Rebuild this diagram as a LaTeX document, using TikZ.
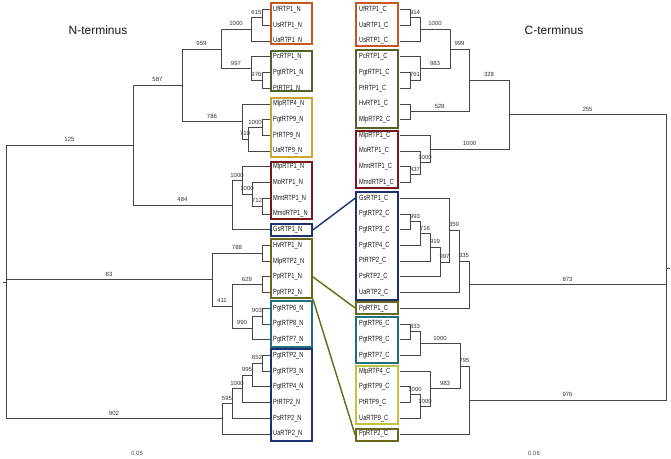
\documentclass[tikz,border=0pt]{standalone}
\usepackage{fontspec}
\setmainfont{Liberation Sans}
\newfontfamily\leaffont{Liberation Sans}[FakeStretch=0.76]
\usepackage{tikz}
\usetikzlibrary{positioning, fit, calc}
\definecolor{treegray}{RGB}{70, 70, 70}
\definecolor{cladeorange}{RGB}{200, 85, 35}
\definecolor{cladegreen}{RGB}{80, 100, 40}
\definecolor{cladegold}{RGB}{205, 165, 45}
\definecolor{cladered}{RGB}{120, 25, 30}
\definecolor{cladeblue}{RGB}{30, 50, 115}
\definecolor{cladeolive}{RGB}{105, 105, 25}
\definecolor{cladeteal}{RGB}{35, 110, 125}
\definecolor{cladelime}{RGB}{195, 195, 65}
\tikzset{
  leaf/.style={anchor=west, inner xsep=3pt, inner ysep=0pt,
               font=\leaffont\fontsize{7.5}{8}\selectfont, text=black!90},
  nextleaf/.style={below=15.72pt of #1.west, anchor=west},
  branch/.style={draw=treegray, line width=0.8pt},
  boot/.style={pos=0.25, above=2.5pt, inner sep=0.5pt,
               font=\fontsize{6}{7}\selectfont, text=black!80},
  cladebox/.style={draw=#1, line width=1.7pt, inner sep=0pt},
  link/.style={draw=#1, line width=1.4pt},
  title/.style={font=\fontsize{12}{14}\selectfont, text=black!90},
  scalelabel/.style={font=\fontsize{6}{7}\selectfont, text=black!70},
}

\begin{document}
\begin{tikzpicture}[x=1pt, y=-1pt]
  \useasboundingbox (0,0) rectangle (671,458);
  \node[title] (titleN) at (98,30) {N-terminus};
  \node[title] (titleC) at (554,30) {C-terminus};

  % N-terminus leaves
  \node[leaf] (ufN) at (270,9.6) {UfRTP1\_N};
  \node[leaf, nextleaf=ufN] (usN) {UsRTP1\_N};
  \node[leaf, nextleaf=usN] (uaN1) {UaRTP1\_N};
  \node[leaf, nextleaf=uaN1] (pcN) {PcRTP1\_N};
  \node[leaf, nextleaf=pcN] (pgtN1) {PgtRTP1\_N};
  \node[leaf, nextleaf=pgtN1] (ptN1) {PtRTP1\_N};
  \node[leaf, nextleaf=ptN1] (mlpN4) {MlpRTP4\_N};
  \node[leaf, nextleaf=mlpN4] (pgtN9) {PgtRTP9\_N};
  \node[leaf, nextleaf=pgtN9] (ptN9) {PtRTP9\_N};
  \node[leaf, nextleaf=ptN9] (uaN9) {UaRTP9\_N};
  \node[leaf, nextleaf=uaN9] (mlpN1) {MlpRTP1\_N};
  \node[leaf, nextleaf=mlpN1] (moN) {MoRTP1\_N};
  \node[leaf, nextleaf=moN] (mmtN) {MmtRTP1\_N};
  \node[leaf, nextleaf=mmtN] (mmdN) {MmdRTP1\_N};
  \node[leaf, nextleaf=mmdN] (gsN) {GsRTP1\_N};
  \node[leaf, nextleaf=gsN] (hvN) {HvRTP1\_N};
  \node[leaf, nextleaf=hvN] (mlpN2) {MlpRTP2\_N};
  \node[leaf, nextleaf=mlpN2] (ppN1) {PpRTP1\_N};
  \node[leaf, nextleaf=ppN1] (ppN2) {PpRTP2\_N};
  \node[leaf, nextleaf=ppN2] (pgtN6) {PgtRTP6\_N};
  \node[leaf, nextleaf=pgtN6] (pgtN8) {PgtRTP8\_N};
  \node[leaf, nextleaf=pgtN8] (pgtN7) {PgtRTP7\_N};
  \node[leaf, nextleaf=pgtN7] (pgtN2) {PgtRTP2\_N};
  \node[leaf, nextleaf=pgtN2] (pgtN3) {PgtRTP3\_N};
  \node[leaf, nextleaf=pgtN3] (pgtN4) {PgtRTP4\_N};
  \node[leaf, nextleaf=pgtN4] (ptN2) {PtRTP2\_N};
  \node[leaf, nextleaf=ptN2] (psN) {PsRTP2\_N};
  \node[leaf, nextleaf=psN] (uaN2) {UaRTP2\_N};

  % C-terminus leaves
  \node[leaf] (ufC) at (356,9.6) {UfRTP1\_C};
  \node[leaf, nextleaf=ufC] (uaC1) {UaRTP1\_C};
  \node[leaf, nextleaf=uaC1] (usC) {UsRTP1\_C};
  \node[leaf, nextleaf=usC] (pcC) {PcRTP1\_C};
  \node[leaf, nextleaf=pcC] (pgtC1) {PgtRTP1\_C};
  \node[leaf, nextleaf=pgtC1] (ptC1) {PtRTP1\_C};
  \node[leaf, nextleaf=ptC1] (hvC) {HvRTP1\_C};
  \node[leaf, nextleaf=hvC] (mlpC2) {MlpRTP2\_C};
  \node[leaf, nextleaf=mlpC2] (mlpC1) {MlpRTP1\_C};
  \node[leaf, nextleaf=mlpC1] (moC) {MoRTP1\_C};
  \node[leaf, nextleaf=moC] (mmtC) {MmtRTP1\_C};
  \node[leaf, nextleaf=mmtC] (mmdC) {MmdRTP1\_C};
  \node[leaf, nextleaf=mmdC] (gsC) {GsRTP1\_C};
  \node[leaf, nextleaf=gsC] (pgtC2) {PgtRTP2\_C};
  \node[leaf, nextleaf=pgtC2] (pgtC3) {PgtRTP3\_C};
  \node[leaf, nextleaf=pgtC3] (pgtC4) {PgtRTP4\_C};
  \node[leaf, nextleaf=pgtC4] (ptC2) {PtRTP2\_C};
  \node[leaf, nextleaf=ptC2] (psC) {PsRTP2\_C};
  \node[leaf, nextleaf=psC] (uaC2) {UaRTP2\_C};
  \node[leaf, nextleaf=uaC2] (ppC1) {PpRTP1\_C};
  \node[leaf, nextleaf=ppC1] (pgtC6) {PgtRTP6\_C};
  \node[leaf, nextleaf=pgtC6] (pgtC8) {PgtRTP8\_C};
  \node[leaf, nextleaf=pgtC8] (pgtC7) {PgtRTP7\_C};
  \node[leaf, nextleaf=pgtC7] (mlpC4) {MlpRTP4\_C};
  \node[leaf, nextleaf=mlpC4] (pgtC9) {PgtRTP9\_C};
  \node[leaf, nextleaf=pgtC9] (ptC9) {PtRTP9\_C};
  \node[leaf, nextleaf=ptC9] (uaC9) {UaRTP9\_C};
  \node[leaf, nextleaf=uaC9] (ppC2) {PpRTP2\_C};

  % inner nodes, N tree
  \coordinate (n615) at (262,17.46);
  \coordinate (n1000a) at (251,29.25);
  \coordinate (n976) at (262,80.34);
  \coordinate (n997) at (251,68.55);
  \coordinate (n959) at (221,48.9);
  \coordinate (n1000b) at (262,127.5);
  \coordinate (n710) at (248,139.29);
  \coordinate (n786) at (242,121.6);
  \coordinate (n587) at (182,85.25);
  \coordinate (n712) at (262,206.1);
  \coordinate (n1000c) at (252,194.31);
  \coordinate (n1000d) at (242,180.56);
  \coordinate (n484) at (232,205.12);
  \coordinate (n125) at (133,145.19);
  \coordinate (n788) at (262,253.26);
  \coordinate (n629) at (262,284.7);
  \coordinate (n903) at (262,316.14);
  \coordinate (n990) at (252,327.93);
  \coordinate (n411) at (232,306.3);
  \coordinate (n83) at (212,279.8);
  \coordinate (n652) at (262,363.3);
  \coordinate (n995) at (252,375.09);
  \coordinate (n1000e) at (242,388.85);
  \coordinate (n595) at (232,403.58);
  \coordinate (n902) at (222,418.81);
  \coordinate (rootN) at (6,282);

  % inner nodes, C tree
  \coordinate (rl) at (400,0);
  \coordinate (c914) at (410,17.46);
  \coordinate (c1000a) at (420,29.25);
  \coordinate (c761) at (410,80.34);
  \coordinate (c983a) at (420,68.55);
  \coordinate (c999) at (450,48.9);
  \coordinate (c528) at (410,111.78);
  \coordinate (c328) at (469,80.34);
  \coordinate (c437) at (410,174.66);
  \coordinate (c1000b) at (420,162.87);
  \coordinate (c1000c) at (430,149.1);
  \coordinate (c255) at (509,114.72);
  \coordinate (c993) at (410,221.82);
  \coordinate (c716) at (420,233.61);
  \coordinate (c919) at (430,247.37);
  \coordinate (c997) at (440,262.1);
  \coordinate (c359) at (449,230.17);
  \coordinate (c335) at (459,261.37);
  \coordinate (c873) at (469,284.8);
  \coordinate (c833) at (410,331.86);
  \coordinate (c1000d) at (420,343.65);
  \coordinate (c1000e) at (410,394.74);
  \coordinate (c1000f) at (420,406.53);
  \coordinate (c983b) at (430,388.85);
  \coordinate (c795) at (460,366.25);
  \coordinate (c976) at (469,400.15);
  \coordinate (rootC) at (666,268);

  \draw[branch] (ufN.west) -| (n615) (usN.west) -| (n615)
    (n615) -| node[boot]{615} (n1000a) (uaN1.west) -| (n1000a)
    (n1000a) -| node[boot]{1000} (n959)
    (pgtN1.west) -| (n976) (ptN1.west) -| (n976)
    (n976) -| node[boot]{976} (n997) (pcN.west) -| (n997)
    (n997) -| node[boot]{997} (n959)
    (n959) -| node[boot]{959} (n587);
  \draw[branch] (pgtN9.west) -| (n1000b) (ptN9.west) -| (n1000b)
    (n1000b) -| node[boot]{1000} (n710) (uaN9.west) -| (n710)
    (n710) -| node[boot]{710} (n786) (mlpN4.west) -| (n786)
    (n786) -| node[boot]{786} (n587)
    (n587) -| node[boot]{587} (n125);
  \draw[branch] (mmtN.west) -| (n712) (mmdN.west) -| (n712)
    (n712) -| node[boot]{712} (n1000c) (moN.west) -| (n1000c)
    (n1000c) -| node[boot]{1000} (n1000d) (mlpN1.west) -| (n1000d)
    (n1000d) -| node[boot]{1000} (n484) (gsN.west) -| (n484)
    (n484) -| node[boot]{484} (n125)
    (n125) -| node[boot]{125} (rootN);
  \draw[branch] (hvN.west) -| (n788) (mlpN2.west) -| (n788)
    (n788) -| node[boot]{788} (n83)
    (ppN1.west) -| (n629) (ppN2.west) -| (n629)
    (n629) -| node[boot]{629} (n411)
    (pgtN6.west) -| (n903) (pgtN8.west) -| (n903)
    (n903) -| node[boot]{903} (n990) (pgtN7.west) -| (n990)
    (n990) -| node[boot]{990} (n411)
    (n411) -| node[boot]{411} (n83)
    (n83) -| node[boot]{83} (rootN);
  \draw[branch] (pgtN2.west) -| (n652) (pgtN3.west) -| (n652)
    (n652) -| node[boot]{652} (n995) (pgtN4.west) -| (n995)
    (n995) -| node[boot]{995} (n1000e) (ptN2.west) -| (n1000e)
    (n1000e) -| node[boot]{1000} (n595) (psN.west) -| (n595)
    (n595) -| node[boot]{595} (n902) (uaN2.west) -| (n902)
    (n902) -| node[boot]{902} (rootN);
  \draw[branch] (rootN) -- ++(-3,0);

  \draw[branch] (ufC -| rl) -| (c914) (uaC1 -| rl) -| (c914)
    (c914) -| node[boot]{914} (c1000a) (usC -| rl) -| (c1000a)
    (c1000a) -| node[boot]{1000} (c999)
    (pgtC1 -| rl) -| (c761) (ptC1 -| rl) -| (c761)
    (c761) -| node[boot]{761} (c983a) (pcC -| rl) -| (c983a)
    (c983a) -| node[boot]{983} (c999)
    (c999) -| node[boot]{999} (c328)
    (hvC -| rl) -| (c528) (mlpC2 -| rl) -| (c528)
    (c528) -| node[boot]{528} (c328)
    (c328) -| node[boot]{328} (c255);
  \draw[branch] (mmtC -| rl) -| (c437) (mmdC -| rl) -| (c437)
    (c437) -| node[boot]{437} (c1000b) (moC -| rl) -| (c1000b)
    (c1000b) -| node[boot]{1000} (c1000c) (mlpC1 -| rl) -| (c1000c)
    (c1000c) -| node[boot]{1000} (c255)
    (c255) -| node[boot]{255} (rootC);
  \draw[branch] (pgtC2 -| rl) -| (c993) (pgtC3 -| rl) -| (c993)
    (c993) -| node[boot]{993} (c716) (pgtC4 -| rl) -| (c716)
    (c716) -| node[boot]{716} (c919) (ptC2 -| rl) -| (c919)
    (c919) -| node[boot]{919} (c997) (psC -| rl) -| (c997)
    (c997) -| node[boot]{997} (c359) (gsC -| rl) -| (c359)
    (c359) -| node[boot]{359} (c335) (uaC2 -| rl) -| (c335)
    (c335) -| node[boot]{335} (c873) (ppC1 -| rl) -| (c873)
    (c873) -| node[boot]{873} (rootC);
  \draw[branch] (pgtC6 -| rl) -| (c833) (pgtC8 -| rl) -| (c833)
    (c833) -| node[boot]{833} (c1000d) (pgtC7 -| rl) -| (c1000d)
    (c1000d) -| node[boot]{1000} (c795)
    (pgtC9 -| rl) -| (c1000e) (ptC9 -| rl) -| (c1000e)
    (c1000e) -| node[boot]{1000} (c1000f) (uaC9 -| rl) -| (c1000f)
    (c1000f) -| node[boot]{1000} (c983b) (mlpC4 -| rl) -| (c983b)
    (c983b) -| node[boot]{983} (c795)
    (c795) -| node[boot]{795} (c976) (ppC2 -| rl) -| (c976)
    (c976) -| node[boot]{976} (rootC);
  \draw[branch] (rootC) -- ++(4,0);

  % clade boxes
  \node[cladebox=cladeorange, fit={(271,3) (312,44)}] (boxUN) {};
  \node[cladebox=cladegreen, fit={(271,51) (312,91)}] (boxPN) {};
  \node[cladebox=cladegold, fit={(271,98) (312,157)}] (box9N) {};
  \node[cladebox=cladered, fit={(271,162) (312,219)}] (boxMN) {};
  \node[cladebox=cladeblue, fit={(271,224) (312,236)}] (boxGN) {};
  \node[cladebox=cladeolive, fit={(271,239) (312,298)}] (boxHN) {};
  \node[cladebox=cladeteal, fit={(271,301) (312,347)}] (box6N) {};
  \node[cladebox=cladeblue, fit={(271,349) (312,441)}] (box2N) {};

  \node[cladebox=cladeorange, fit={(356,3) (398,46)}] (boxUC) {};
  \node[cladebox=cladegreen, fit={(356,50) (398,128)}] (boxPC) {};
  \node[cladebox=cladered, fit={(356,131) (398,188)}] (boxMC) {};
  \node[cladebox=cladeblue, fit={(356,192) (398,300)}] (box2C) {};
  \node[cladebox=cladeolive, fit={(356,302) (398,314)}] (boxP1C) {};
  \node[cladebox=cladeteal, fit={(356,317) (398,363)}] (box6C) {};
  \node[cladebox=cladelime, fit={(356,366) (398,424)}] (box9C) {};
  \node[cladebox=cladeolive, fit={(356,429) (398,441)}] (boxP2C) {};

  \draw[link=cladeblue] (boxGN.east) -- (box2C.west |- gsC);
  \draw[link=cladeolive] (boxHN.east |- ppN1) -- (boxP1C.west);
  \draw[link=cladeolive] (boxHN.south east) -- (boxP2C.west);

  \node[scalelabel] (scaleN) at (137,453) {0.05};
  \node[scalelabel] (scaleC) at (534,453) {0.06};
\end{tikzpicture}
\end{document}
